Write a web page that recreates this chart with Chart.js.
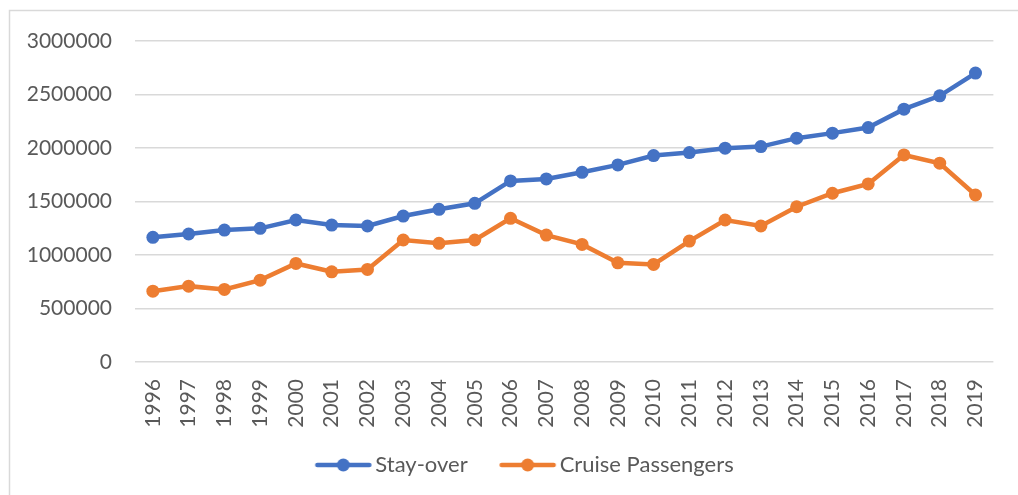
<!DOCTYPE html>
<html>
<head>
<meta charset="utf-8">
<script src="https://cdn.jsdelivr.net/npm/chart.js@4.4.1/dist/chart.umd.min.js"></script>
<style>
  html, body { margin: 0; padding: 0; background: #fff; }
  #wrap { width: 1018px; height: 495px; position: relative; }
</style>
</head>
<body>
<div id="wrap"><canvas id="myChart" width="1018" height="495"></canvas></div>
<script>
const years = ['1996','1997','1998','1999','2000','2001','2002','2003','2004','2005','2006','2007',
               '2008','2009','2010','2011','2012','2013','2014','2015','2016','2017','2018','2019'];
const stayOver = [1165000, 1196000, 1233000, 1249000, 1327000, 1280000, 1271000, 1364000,
                  1427000, 1483000, 1692000, 1711000, 1773000, 1842000, 1929000, 1957000,
                  1998000, 2013000, 2092000, 2139000, 2191000, 2363000, 2488000, 2700000];
const cruise = [662000, 709000, 678000, 765000, 921000, 843000, 865000, 1140000,
                1109000, 1140000, 1343000, 1186000, 1099000, 927000, 912000, 1130000,
                1327000, 1271000, 1451000, 1577000, 1664000, 1935000, 1858000, 1561000];
const yTicks = [0, 500000, 1000000, 1500000, 2000000, 2500000, 3000000];

const blue = '#4472C4';
const orange = '#ED7D31';
const textColor = '#595959';
const gridColor = '#D9D9D9';

// legend marker: line with a dot in the middle (transparent margin shifts it into place)
function legendMarker(color) {
  const c = document.createElement('canvas');
  c.width = 100; c.height = 14;
  const g = c.getContext('2d');
  g.strokeStyle = color;
  g.lineWidth = 4.5;
  g.lineCap = 'round';
  g.beginPath();
  g.moveTo(30.5, 7); g.lineTo(82.5, 7);
  g.stroke();
  g.fillStyle = color;
  g.beginPath();
  g.arc(56.5, 7, 6.5, 0, Math.PI * 2);
  g.fill();
  return c;
}
const markers = [legendMarker(blue), legendMarker(orange)];

const frame = {
  id: 'frame',
  afterLayout(chart) {
    // nudge the legend a bit right, like the original
    chart.legend.left += 40;
  },
  beforeDraw(chart) {
    const g = chart.ctx;
    g.save();
    g.strokeStyle = gridColor;
    g.lineWidth = 1.5;
    g.beginPath();
    g.moveTo(9.5, 495);
    g.lineTo(9.5, 10.5);
    g.lineTo(1018, 10.5);
    g.stroke();
    g.restore();
  }
};

Chart.defaults.font.family = 'Lato';
Chart.defaults.font.size = 21;
Chart.defaults.color = textColor;

const ctx = document.getElementById('myChart').getContext('2d');
const myChart = new Chart(ctx, {
  type: 'line',
  data: {
    labels: years,
    datasets: [{
      label: 'Stay-over',
      data: stayOver,
      borderColor: blue,
      backgroundColor: blue,
      borderWidth: 4.5,
      pointRadius: 6.5,
      pointBackgroundColor: blue,
      pointBorderWidth: 0,
      tension: 0
    }, {
      label: 'Cruise Passengers',
      data: cruise,
      borderColor: orange,
      backgroundColor: orange,
      borderWidth: 4.5,
      pointRadius: 6.5,
      pointBackgroundColor: orange,
      pointBorderWidth: 0,
      tension: 0
    }]
  },
  options: {
    responsive: false,
    animation: false,
    layout: { padding: { top: 41, right: 15, bottom: 9, left: 0 } },
    plugins: {
      tooltip: { enabled: false },
      legend: {
        position: 'bottom',
        labels: {
          usePointStyle: true,
          pointStyleWidth: 55,
          padding: 26,
          color: textColor,
          font: { size: 22 },
          generateLabels(chart) {
            const items = Chart.defaults.plugins.legend.labels.generateLabels(chart);
            items.forEach((it, i) => { it.pointStyle = markers[i]; });
            return items;
          }
        }
      }
    },
    scales: {
      x: {
        offset: true,
        grid: { display: false, drawTicks: false },
        border: { display: false },
        ticks: { minRotation: 90, maxRotation: 90, padding: 17, autoSkip: false },
        afterFit(scale) { scale.height = 66; }
      },
      y: {
        min: 0,
        max: 3000000,
        grid: { color: gridColor, lineWidth: 1.5, drawTicks: false },
        border: { display: false },
        ticks: {
          padding: 23,
          stepSize: 500000,
          callback: (v) => yTicks.includes(v) ? String(v) : ''
        },
        afterFit(scale) { scale.width = 135; }
      }
    }
  },
  plugins: [frame]
});
</script>
</body>
</html>
